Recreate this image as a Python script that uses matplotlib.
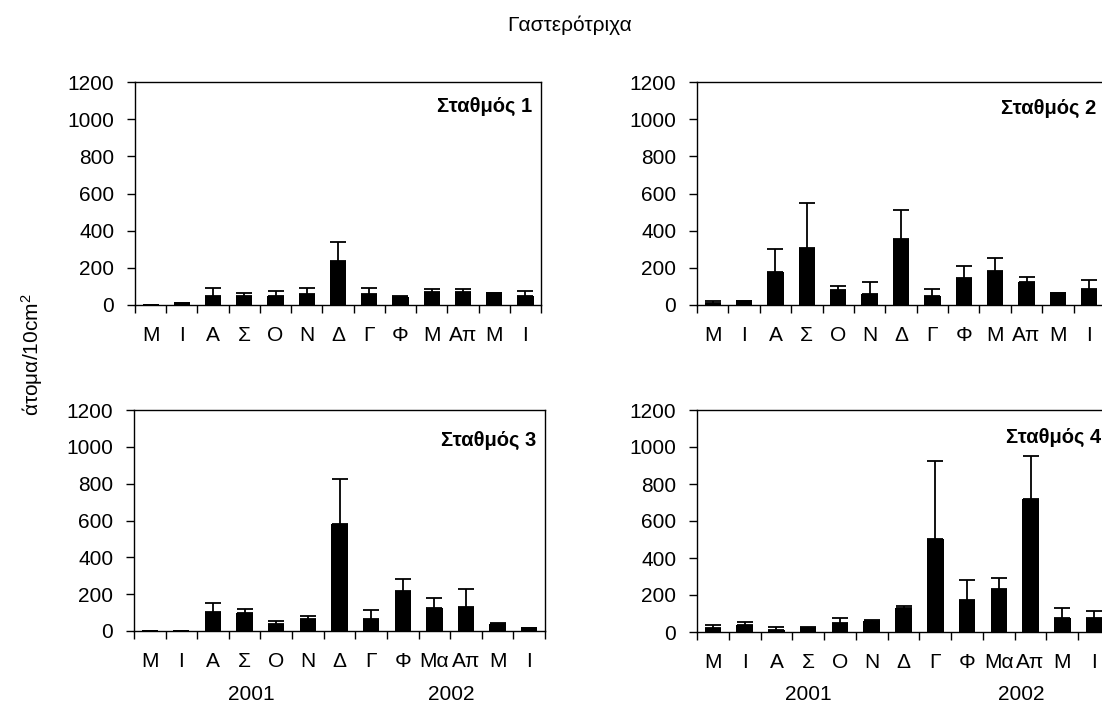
import matplotlib
matplotlib.use('Agg')
import matplotlib.pyplot as plt
import numpy as np

plt.rcParams['font.family'] = ['Liberation Sans', 'DejaVu Sans']
plt.rcParams['mathtext.default'] = 'regular'

# month labels (top row / bottom row)
months_top = ['Μ', 'Ι', 'Α', 'Σ', 'Ο', 'Ν', 'Δ', 'Γ', 'Φ', 'Μ', 'Απ', 'Μ', 'Ι']
months_bot = ['Μ', 'Ι', 'Α', 'Σ', 'Ο', 'Ν', 'Δ', 'Γ', 'Φ', 'Μα', 'Απ', 'Μ', 'Ι']

# mean values and upper error (sd) per station
st1_mean = [2, 10, 50, 50, 50, 58, 238, 58, 45, 70, 70, 62, 50]
st1_err = [0, 3, 44, 17, 27, 36, 102, 36, 5, 16, 16, 4, 27]

st2_mean = [13, 20, 175, 306, 79, 59, 353, 50, 144, 184, 126, 62, 88]
st2_err = [9, 2, 129, 243, 25, 67, 160, 36, 65, 71, 27, 4, 45]

st3_mean = [2, 2, 103, 96, 36, 65, 580, 65, 217, 123, 132, 40, 15]
st3_err = [0, 0, 49, 25, 18, 17, 247, 47, 66, 55, 95, 5, 3]

st4_mean = [20, 40, 11, 23, 47, 62, 128, 501, 171, 235, 719, 75, 75]
st4_err = [18, 14, 16, 4, 27, 4, 12, 424, 111, 56, 233, 54, 38]

years = ['2001', '2002']

W, H = 1102, 706
fig = plt.figure(figsize=(W / 100, H / 100), dpi=100)

# axes rectangles in pixels: left, top(1200), right, bottom(0)
boxes = [
    (135, 82, 541, 305),
    (697, 82, 1105, 305),
    (134, 410, 545, 631),
    (697, 410, 1110, 632),
]
panels = [
    (st1_mean, st1_err, months_top, 'Σταθμός 1', None),
    (st2_mean, st2_err, months_top, 'Σταθμός 2', None),
    (st3_mean, st3_err, months_bot, 'Σταθμός 3', (3.2, 9.55)),
    (st4_mean, st4_err, months_bot, 'Σταθμός 4', (3.0, 9.7)),
]
label_y = [0.888, 0.880, 0.864, 0.877]
fs = 15

for (l, t, r, b), (mean, err, months, name, ypos), ly in zip(boxes, panels, label_y):
    ax = fig.add_axes([l / W, 1 - b / H, (r - l) / W, (b - t) / H])
    x = np.arange(len(mean))
    ax.bar(x, mean, width=0.52, color='black', zorder=2)
    ax.errorbar(x, mean, yerr=[np.zeros(len(err)), err], fmt='none',
                ecolor='black', elinewidth=1.3, capsize=5.5, capthick=1.3, zorder=3)
    ax.set_xlim(-0.5, len(mean) - 0.5)
    ax.set_ylim(0, 1200)
    ax.set_yticks(range(0, 1201, 200))
    ax.set_xticks(x)
    ax.set_xticklabels(months)
    ax.set_xticks(np.arange(-0.5, len(mean)), minor=True)
    ax.tick_params(axis='x', which='major', length=0, pad=15, labelsize=fs)
    ax.tick_params(axis='x', which='minor', length=6, width=1, direction='out')
    ax.tick_params(axis='y', length=6, width=1, pad=9, labelsize=fs)
    for s in ax.spines.values():
        s.set_linewidth(1.0)
        s.set_color('black')
    ax.text(1 - 9 / (r - l), ly, name, transform=ax.transAxes,
            ha='right', va='center', fontsize=14.5, fontweight='bold')
    if ypos is not None:
        for yr, xp in zip(years, ypos):
            ax.annotate(yr, xy=(xp, 0), xycoords=('data', 'axes fraction'),
                        xytext=(0, -63), textcoords='offset pixels',
                        ha='center', va='center', fontsize=fs)

fig.text(0.517, 1 - 25 / H, 'Γαστερότριχα', ha='center', va='center', fontsize=fs)
fig.text(32 / W, 1 - 355 / H, 'άτομα/10cm$^{2}$', rotation=90,
         ha='center', va='center', fontsize=fs)

fig.savefig('out.png', dpi=100)
